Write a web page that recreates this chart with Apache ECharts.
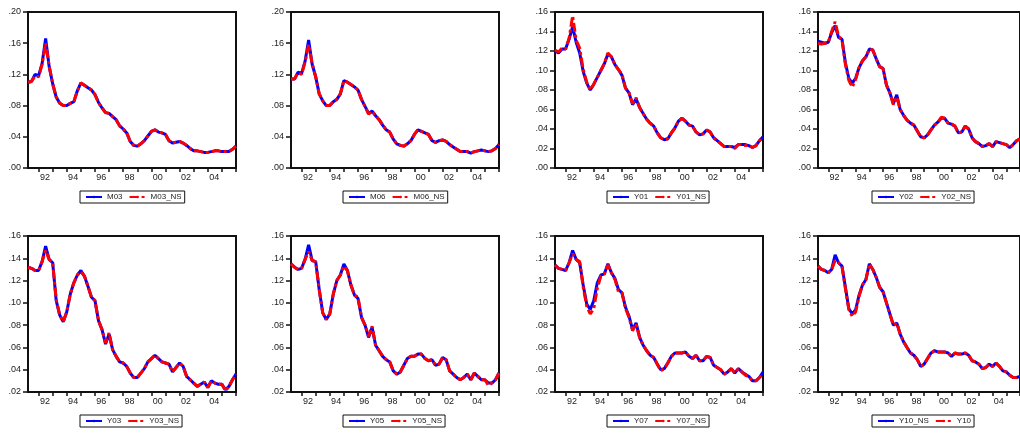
<!DOCTYPE html>
<html>
<head>
<meta charset="utf-8">
<script src="https://cdn.jsdelivr.net/npm/echarts@6/dist/echarts.min.js"></script>
<style>
html,body{margin:0;padding:0;background:#fff;}
#c{width:1020px;height:434px;}
</style>
</head>
<body>
<div id="c"></div>
<script>
// Quarterly observations, 1991Q2 .. 2005Q4 (time index)
const startYear = 1991.25;
const nObs = 60;

const xTickYears = [1992,1993,1994,1995,1996,1997,1998,1999,2000,2001,2002,2003,2004,2005,2006];
const xLabelYears = [1992,1994,1996,1998,2000,2002,2004];

const M03 = [0.110,0.111,0.120,0.118,0.134,0.166,0.130,0.108,0.091,0.083,
0.080,0.080,0.083,0.085,0.099,0.109,0.106,0.103,0.100,0.094,
0.084,0.077,0.071,0.070,0.066,0.062,0.054,0.050,0.045,0.034,
0.029,0.028,0.031,0.035,0.041,0.047,0.049,0.046,0.045,0.043,
0.035,0.032,0.033,0.034,0.032,0.029,0.025,0.022,0.022,0.021,
0.020,0.020,0.021,0.022,0.022,0.021,0.021,0.021,0.024,0.028];
const M03_NS = [0.110,0.111,0.118,0.117,0.133,0.160,0.131,0.108,0.091,0.083,
0.080,0.080,0.083,0.085,0.099,0.109,0.106,0.103,0.100,0.094,
0.084,0.077,0.071,0.070,0.066,0.062,0.054,0.050,0.045,0.034,
0.029,0.028,0.031,0.035,0.041,0.047,0.049,0.046,0.045,0.043,
0.035,0.032,0.033,0.034,0.032,0.029,0.025,0.022,0.022,0.021,
0.020,0.020,0.021,0.022,0.022,0.021,0.021,0.021,0.024,0.028];

const M06 = [0.114,0.114,0.123,0.121,0.137,0.164,0.133,0.117,0.095,0.086,
0.080,0.080,0.085,0.088,0.095,0.112,0.110,0.107,0.104,0.100,
0.088,0.079,0.070,0.073,0.067,0.062,0.055,0.049,0.046,0.037,
0.031,0.029,0.028,0.031,0.035,0.043,0.049,0.047,0.045,0.043,
0.035,0.033,0.035,0.036,0.034,0.030,0.027,0.024,0.021,0.021,
0.021,0.019,0.021,0.022,0.023,0.022,0.021,0.022,0.025,0.030];
const M06_NS = [0.114,0.114,0.122,0.120,0.136,0.158,0.134,0.117,0.095,0.086,
0.080,0.080,0.085,0.088,0.095,0.112,0.110,0.107,0.104,0.100,
0.088,0.079,0.069,0.073,0.067,0.062,0.055,0.049,0.046,0.037,
0.031,0.029,0.028,0.031,0.035,0.043,0.049,0.047,0.045,0.043,
0.035,0.033,0.035,0.036,0.034,0.030,0.027,0.024,0.021,0.021,
0.021,0.019,0.021,0.022,0.023,0.022,0.021,0.022,0.025,0.030];

const Y01 = [0.120,0.118,0.122,0.122,0.132,0.145,0.129,0.118,0.099,0.087,
0.080,0.086,0.093,0.100,0.107,0.117,0.114,0.106,0.101,0.095,
0.082,0.077,0.065,0.071,0.062,0.056,0.050,0.046,0.043,0.036,
0.031,0.029,0.030,0.036,0.041,0.048,0.051,0.048,0.044,0.043,
0.037,0.034,0.035,0.039,0.037,0.031,0.028,0.025,0.022,0.022,
0.022,0.021,0.024,0.024,0.024,0.023,0.021,0.023,0.028,0.032];
const Y01_NS = [0.121,0.119,0.123,0.122,0.133,0.156,0.131,0.123,0.101,0.088,
0.080,0.086,0.093,0.100,0.107,0.118,0.114,0.106,0.101,0.096,
0.082,0.077,0.066,0.072,0.062,0.056,0.050,0.046,0.043,0.036,
0.031,0.029,0.030,0.036,0.041,0.048,0.051,0.048,0.044,0.043,
0.037,0.034,0.035,0.039,0.037,0.031,0.028,0.025,0.022,0.022,
0.022,0.020,0.024,0.024,0.023,0.023,0.021,0.023,0.028,0.032];

const Y02 = [0.130,0.129,0.128,0.129,0.139,0.146,0.134,0.132,0.108,0.092,
0.087,0.092,0.103,0.110,0.114,0.122,0.121,0.112,0.104,0.102,
0.085,0.077,0.066,0.075,0.060,0.054,0.049,0.046,0.044,0.038,
0.032,0.031,0.034,0.039,0.044,0.047,0.051,0.051,0.046,0.045,
0.043,0.036,0.037,0.043,0.040,0.031,0.027,0.025,0.022,0.023,
0.025,0.022,0.027,0.026,0.025,0.024,0.021,0.024,0.028,0.030];
const Y02_NS = [0.128,0.127,0.128,0.129,0.140,0.150,0.135,0.132,0.106,0.090,
0.083,0.091,0.103,0.110,0.114,0.122,0.121,0.112,0.104,0.102,
0.085,0.077,0.065,0.073,0.060,0.054,0.049,0.046,0.044,0.038,
0.032,0.031,0.034,0.039,0.044,0.047,0.052,0.051,0.046,0.045,
0.043,0.036,0.037,0.043,0.040,0.031,0.027,0.025,0.022,0.023,
0.025,0.022,0.027,0.026,0.025,0.024,0.021,0.024,0.028,0.030];

const Y03 = [0.132,0.131,0.129,0.129,0.137,0.151,0.139,0.136,0.102,0.089,
0.083,0.092,0.108,0.118,0.125,0.129,0.124,0.115,0.105,0.102,
0.084,0.076,0.063,0.072,0.058,0.052,0.047,0.046,0.043,0.037,
0.033,0.033,0.037,0.041,0.047,0.050,0.053,0.050,0.047,0.046,
0.045,0.038,0.042,0.046,0.043,0.034,0.031,0.028,0.025,0.027,
0.029,0.024,0.030,0.028,0.027,0.027,0.022,0.025,0.031,0.036];
const Y03_NS = [0.132,0.131,0.129,0.129,0.137,0.147,0.139,0.136,0.103,0.089,
0.083,0.092,0.108,0.118,0.125,0.128,0.124,0.115,0.105,0.102,
0.084,0.076,0.064,0.073,0.058,0.052,0.047,0.046,0.043,0.037,
0.033,0.033,0.037,0.041,0.047,0.050,0.053,0.050,0.047,0.046,
0.045,0.038,0.042,0.046,0.043,0.034,0.031,0.028,0.025,0.027,
0.029,0.024,0.030,0.028,0.027,0.027,0.021,0.025,0.031,0.036];

const Y05 = [0.135,0.132,0.130,0.131,0.139,0.152,0.138,0.137,0.112,0.091,
0.085,0.090,0.108,0.120,0.125,0.135,0.129,0.116,0.107,0.104,
0.087,0.080,0.069,0.078,0.062,0.057,0.052,0.049,0.047,0.039,
0.036,0.038,0.044,0.050,0.052,0.052,0.054,0.054,0.050,0.048,
0.049,0.044,0.045,0.051,0.049,0.039,0.036,0.033,0.031,0.033,
0.036,0.031,0.037,0.034,0.031,0.031,0.028,0.028,0.031,0.037];
const Y05_NS = [0.135,0.132,0.130,0.131,0.139,0.146,0.138,0.137,0.112,0.091,
0.085,0.090,0.108,0.120,0.125,0.133,0.129,0.116,0.107,0.105,
0.087,0.080,0.070,0.079,0.062,0.057,0.052,0.049,0.047,0.039,
0.036,0.038,0.044,0.050,0.052,0.052,0.054,0.054,0.050,0.048,
0.049,0.044,0.045,0.051,0.049,0.039,0.036,0.033,0.031,0.033,
0.036,0.031,0.037,0.034,0.031,0.031,0.026,0.028,0.031,0.037];

const Y07 = [0.134,0.131,0.130,0.129,0.136,0.147,0.139,0.136,0.116,0.099,
0.094,0.102,0.118,0.125,0.126,0.135,0.127,0.122,0.112,0.109,
0.096,0.088,0.076,0.082,0.069,0.062,0.057,0.053,0.051,0.045,
0.040,0.041,0.046,0.052,0.055,0.055,0.055,0.056,0.052,0.050,
0.053,0.048,0.048,0.052,0.051,0.044,0.042,0.040,0.036,0.038,
0.041,0.037,0.041,0.038,0.036,0.034,0.030,0.030,0.033,0.038];
const Y07_NS = [0.134,0.131,0.130,0.129,0.136,0.144,0.139,0.137,0.114,0.097,
0.090,0.095,0.113,0.124,0.126,0.134,0.127,0.121,0.110,0.109,
0.095,0.087,0.075,0.081,0.069,0.062,0.057,0.053,0.051,0.045,
0.039,0.041,0.046,0.052,0.055,0.055,0.055,0.056,0.052,0.050,
0.053,0.048,0.048,0.052,0.051,0.044,0.042,0.040,0.036,0.038,
0.041,0.037,0.041,0.038,0.035,0.034,0.030,0.030,0.033,0.036];

const Y10_NS = [0.133,0.130,0.129,0.127,0.130,0.143,0.136,0.133,0.114,0.095,
0.090,0.094,0.107,0.116,0.121,0.135,0.130,0.123,0.114,0.110,
0.100,0.090,0.080,0.082,0.072,0.065,0.060,0.055,0.053,0.049,
0.043,0.045,0.050,0.055,0.057,0.056,0.056,0.056,0.055,0.052,
0.055,0.054,0.054,0.055,0.053,0.048,0.047,0.045,0.041,0.042,
0.045,0.043,0.046,0.043,0.039,0.038,0.035,0.033,0.033,0.034];
const Y10 = [0.133,0.130,0.129,0.127,0.130,0.138,0.136,0.133,0.113,0.094,
0.088,0.092,0.106,0.116,0.121,0.135,0.130,0.123,0.114,0.110,
0.100,0.090,0.080,0.082,0.072,0.065,0.060,0.055,0.053,0.049,
0.043,0.045,0.050,0.055,0.057,0.056,0.056,0.056,0.055,0.052,
0.055,0.054,0.054,0.055,0.053,0.048,0.047,0.045,0.041,0.042,
0.045,0.043,0.046,0.043,0.039,0.038,0.035,0.033,0.033,0.034];

// panel definitions: [blueName, blueData, redName, redData, yMin, yMax, yInterval]
const panels = [
  ['M03', M03, 'M03_NS', M03_NS, 0, 0.20, 0.04],
  ['M06', M06, 'M06_NS', M06_NS, 0, 0.20, 0.04],
  ['Y01', Y01, 'Y01_NS', Y01_NS, 0, 0.16, 0.02],
  ['Y02', Y02, 'Y02_NS', Y02_NS, 0, 0.16, 0.02],
  ['Y03', Y03, 'Y03_NS', Y03_NS, 0.02, 0.16, 0.02],
  ['Y05', Y05, 'Y05_NS', Y05_NS, 0.02, 0.16, 0.02],
  ['Y07', Y07, 'Y07_NS', Y07_NS, 0.02, 0.16, 0.02],
  ['Y10_NS', Y10_NS, 'Y10', Y10, 0.02, 0.16, 0.02]
];

const xs = [];
for (let i = 0; i < nObs; i++) xs.push(startYear + i * 0.25);
function pairs(arr){ return arr.map((v,i)=>[xs[i], v]); }

const gridLefts = [28, 291, 555, 818];
const gridTops = [12, 236];
const legendLefts = [80, 343, 607, 872];
const legendTops = [191, 415];
const FONT = '"Liberation Sans", Arial, sans-serif';
const AX = '#111';

const grid = [], xAxis = [], yAxis = [], series = [], legend = [];
panels.forEach((p, k) => {
  const col = k % 4, row = Math.floor(k / 4);
  grid.push({left: gridLefts[col], top: gridTops[row], width: 208, height: 156,
    show: true, borderColor: AX, borderWidth: 2, backgroundColor: '#fff', containLabel: false});
  xAxis.push({
    type: 'value', gridIndex: k, min: startYear, max: xs[nObs-1],
    axisLine: {show: true, onZero: false, lineStyle: {color: AX, width: 2}},
    axisTick: {show: true, inside: false, length: 4, lineStyle: {color: AX, width: 1.5},
      customValues: xTickYears},
    axisLabel: {show: true, margin: 5, color: '#222', fontSize: 9, fontFamily: FONT,
      customValues: xLabelYears.map(y => y + 0.45),
      formatter: v => String(Math.round(v - 0.45) % 100).padStart(2, '0')},
    splitLine: {show: false}
  });
  yAxis.push({
    type: 'value', gridIndex: k, min: p[4], max: p[5], interval: p[6],
    axisLine: {show: true, onZero: false, lineStyle: {color: AX, width: 2}},
    axisTick: {show: true, inside: false, length: 5, lineStyle: {color: AX, width: 1.5}},
    axisLabel: {show: true, margin: 7, color: '#222', fontSize: 9, fontFamily: FONT,
      formatter: v => v.toFixed(2).replace(/^0/, '')},
    splitLine: {show: false}
  });
  series.push({
    name: p[0], type: 'line', xAxisIndex: k, yAxisIndex: k, data: pairs(p[1]),
    symbol: 'none', smooth: false, animation: false,
    lineStyle: {color: '#0000ff', width: 3}, itemStyle: {color: '#0000ff'}
  });
  series.push({
    name: p[2], type: 'line', xAxisIndex: k, yAxisIndex: k, data: pairs(p[3]),
    symbol: 'none', smooth: false, animation: false,
    lineStyle: {color: '#ff0000', width: 3, type: [9, 3, 3, 3]}, itemStyle: {color: '#ff0000'}
  });
  legend.push({
    data: [p[0], p[2]], left: legendLefts[col], top: legendTops[row], orient: 'horizontal',
    borderColor: '#111', borderWidth: 1, backgroundColor: '#fff', borderRadius: 0,
    padding: [2, 3, 2, 5], itemWidth: 16, itemHeight: 3, itemGap: 6,
    selectedMode: false,
    textStyle: {fontSize: 8, color: '#222', fontFamily: FONT}
  });
});

const chart = echarts.init(document.getElementById('c'), null, {renderer: 'canvas'});
chart.setOption({animation: false, backgroundColor: '#fff', grid, xAxis, yAxis, series, legend});
</script>
</body>
</html>
